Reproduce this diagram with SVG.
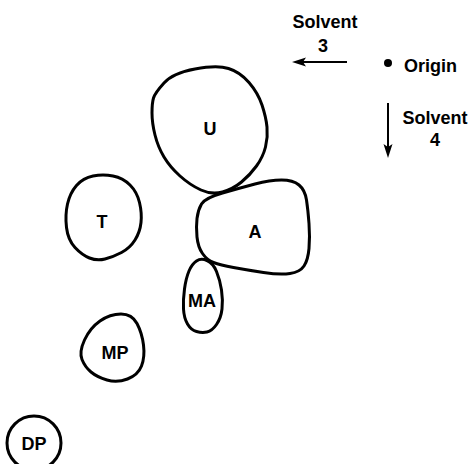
<svg xmlns="http://www.w3.org/2000/svg" width="471" height="464" viewBox="0 0 471 464">
<style>
.spot{fill:none;stroke:#000;stroke-width:3;stroke-linejoin:round}
.lbl{font-family:"Liberation Sans",Arial,sans-serif;font-weight:bold;font-size:18px;fill:#000;text-anchor:middle}
.arr{stroke:#000;stroke-width:2;fill:none}
</style>
<rect width="471" height="464" fill="#fff"/>
<g id="legend">
<text class="lbl" x="325" y="28">Solvent</text>
<text class="lbl" x="323" y="52">3</text>
<line class="arr" x1="347" y1="62" x2="302" y2="62"/>
<polygon points="292,62 306,57.5 303,62 306,66.5" fill="#000"/>
<circle cx="388" cy="63" r="4" fill="#000"/>
<text class="lbl" x="404" y="72" style="text-anchor:start">Origin</text>
<line class="arr" x1="388" y1="103" x2="388" y2="148"/>
<polygon points="388,158 383.5,144 388,147 392.5,144" fill="#000"/>
<text class="lbl" x="435" y="124">Solvent</text>
<text class="lbl" x="435" y="146">4</text>
</g>
<g id="U">
<path class="spot" d="M153.5,98 Q155,93 164,83 Q173,73 195,69 Q217,65 228.5,68.5 Q240,72 249,82.5 Q258,93 262,105 Q266,117 267,127 Q268,137 265.5,147 Q263,157 256.5,166 Q250,175 241.5,182 Q233,189 222.5,192 Q212,195 201,190 Q190,185 180,176 Q170,167 164,157 Q158,147 155,135 Q152,123 152,113 Q152,103 153.5,98 Z"/>
<text class="lbl" x="210" y="135">U</text>
</g>
<g id="A">
<path class="spot" d="M201.5,204 Q205,198 222.5,193 Q240,188 255,184 Q270,180 281.5,180 Q293,180 299,185 Q305,190 306.5,200 Q308,210 309,223.5 Q310,237 309,248.5 Q308,260 304,266 Q300,272 290,273.5 Q280,275 263.5,272.5 Q247,270 233.5,267.5 Q220,265 213.5,262.5 Q207,260 202.5,253.5 Q198,247 197,237 Q196,227 197,218.5 Q198,210 201.5,204 Z"/>
<text class="lbl" x="255" y="238">A</text>
</g>
<g id="T">
<path class="spot" d="M66.5,227.5 Q65,215 67.5,204 Q70,193 76.5,185.5 Q83,178 93,176 Q103,174 113,176 Q123,178 130,185 Q137,192 139.5,202.5 Q142,213 141,222.5 Q140,232 135,240 Q130,248 121.5,252.5 Q113,257 105,259 Q97,261 89.5,258 Q82,255 75,247.5 Q68,240 66.5,227.5 Z"/>
<text class="lbl" x="102" y="228">T</text>
</g>
<g id="MA">
<path class="spot" d="M196.5,261 Q201,258 207,260.5 Q213,263 216.5,271.5 Q220,280 221.5,290 Q223,300 222,309 Q221,318 216.5,324.5 Q212,331 207,332 Q202,333 196.5,331.5 Q191,330 187.5,324 Q184,318 183.5,309 Q183,300 184.5,289 Q186,278 189,271 Q192,264 196.5,261 Z"/>
<text class="lbl" x="202" y="307">MA</text>
</g>
<g id="MP">
<path class="spot" d="M82,359.5 Q79,352 84.5,340 Q90,328 100,321 Q110,314 121,314 Q132,314 137,323.5 Q142,333 143.5,345 Q145,357 141.5,366 Q138,375 127.5,379 Q117,383 107,380 Q97,377 91,372 Q85,367 82,359.5 Z"/>
<text class="lbl" x="115" y="359">MP</text>
</g>
<g id="DP">
<circle class="spot" cx="34" cy="443" r="27"/>
<text class="lbl" x="34" y="450">DP</text>
</g>
</svg>
